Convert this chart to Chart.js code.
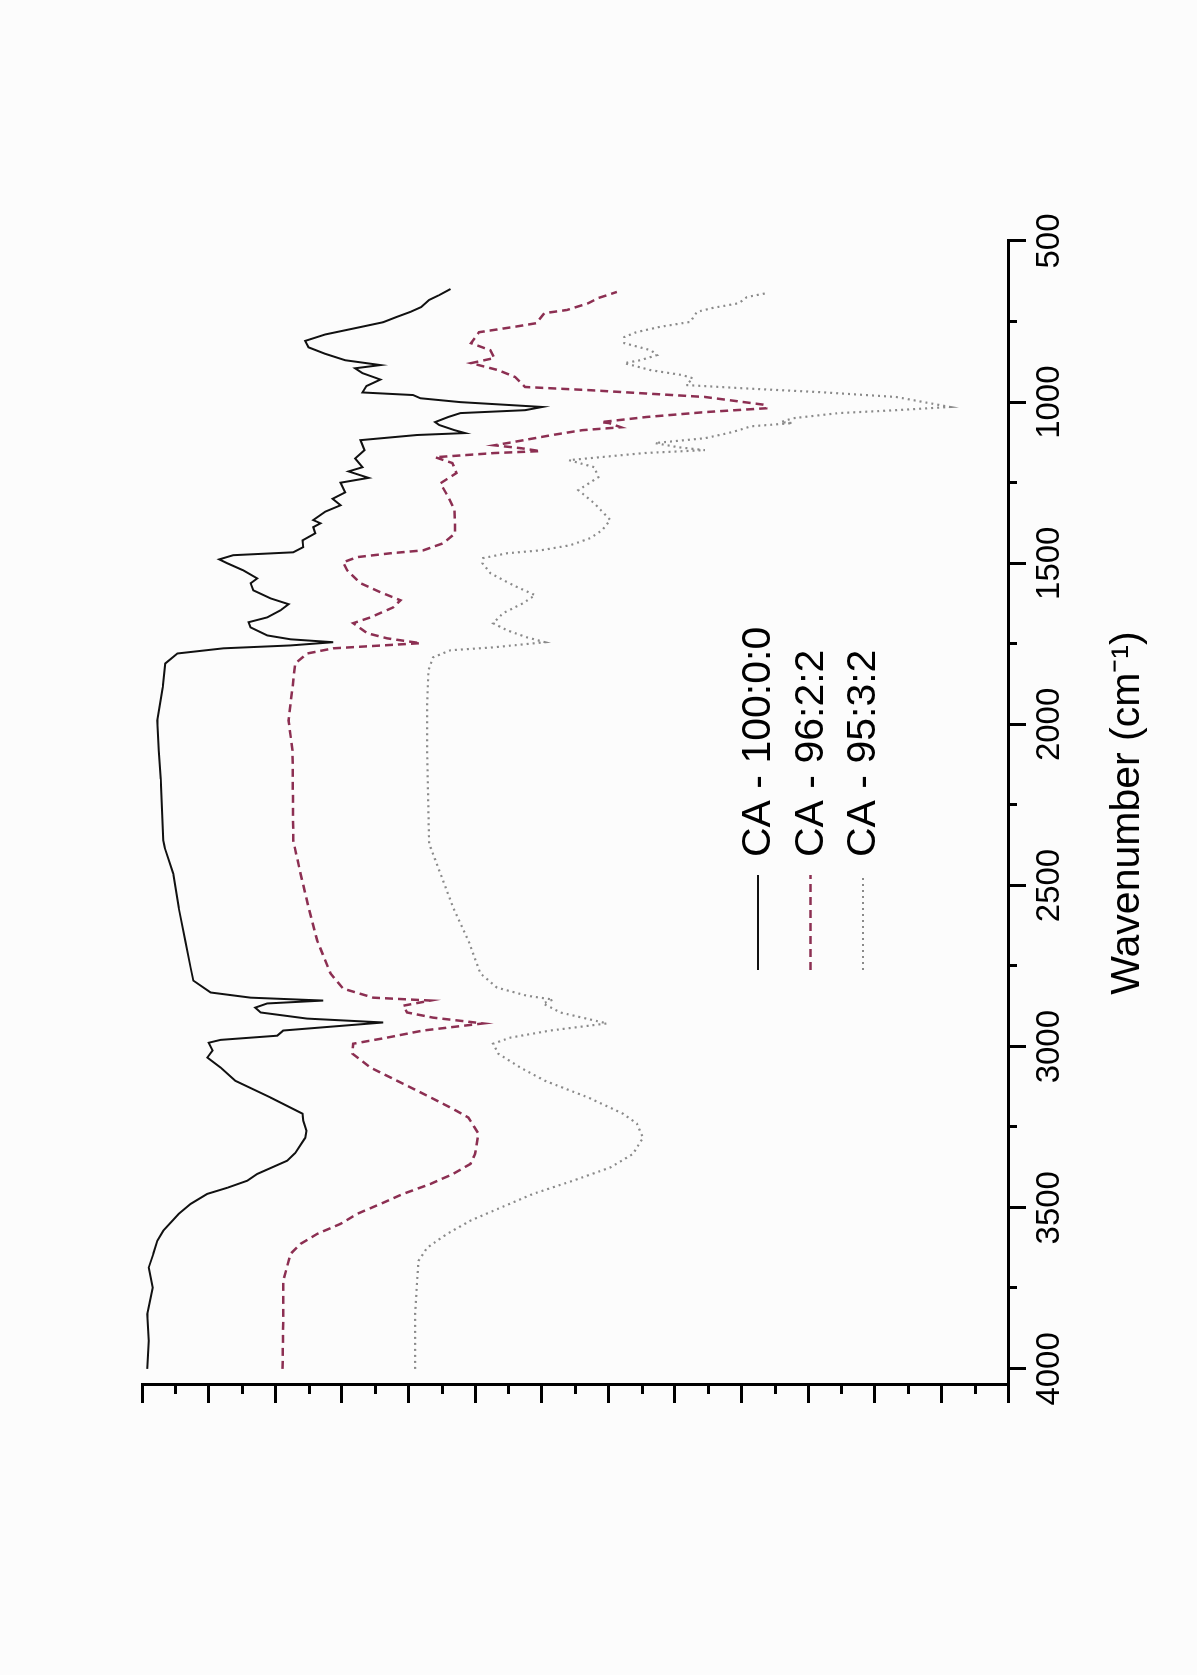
<!DOCTYPE html>
<html>
<head>
<meta charset="utf-8">
<title>FTIR spectra</title>
<script src="https://cdn.jsdelivr.net/npm/chart.js@4.4.1/dist/chart.umd.min.js"></script>
<style>
  html, body { margin: 0; padding: 0; background: #fcfcfc; }
  body { width: 1197px; height: 1675px; overflow: hidden; position: relative; }
  /* the chart is drawn upright, then the whole thing is turned a quarter counter-clockwise */
  #wrap { position: absolute; left: 0; top: 0; width: 1675px; height: 1197px;
          transform-origin: 0 0; transform: translate(0px, 1675px) rotate(-90deg); }
</style>
</head>
<body>
<div id="wrap"><canvas id="myChart" width="1675" height="1197" style="width:1675px;height:1197px"></canvas></div>
<script>
const seriesNames = ['CA - 100:0:0', 'CA - 96:2:2', 'CA - 95:3:2']
const xTitle = 'Wavenumber (cm\u207B\u00B9)'

const wnTicks = [500, 1000, 1500, 2000, 2500, 3000, 3500, 4000]
const wnMinor = [750, 1250, 1750, 2250, 2750, 3250, 3750]
const tTicks = [0, 10, 20, 30, 40, 50, 60, 70, 80, 90, 100, 110, 120, 130]
const tMinor = [5, 15, 25, 35, 45, 55, 65, 75, 85, 95, 105, 115, 125]

// CA - 100:0:0
const wnCA100 = [4000, 3913, 3830, 3748, 3686, 3643, 3602, 3571, 3519, 3488, 3457, 3438, 3416, 3395, 3354, 3330, 3283, 3261, 3230, 3208,
  3158, 3106, 3065, 3034, 3012, 2988, 2979, 2966, 2950, 2925, 2913, 2894, 2879, 2866, 2857, 2848, 2832, 2795, 2755, 2671,
  2568, 2463, 2382, 2360, 2170, 2081, 1988, 1885, 1811, 1780, 1764, 1755, 1745, 1736, 1724, 1699, 1683, 1668, 1646, 1627,
  1609, 1584, 1562, 1547, 1522, 1500, 1488, 1475, 1469, 1466, 1450, 1429, 1407, 1388, 1376, 1366, 1340, 1320, 1300, 1280,
  1250, 1235, 1215, 1202, 1175, 1149, 1118, 1102, 1096, 1087, 1071, 1062, 1046, 1034, 1025, 1015, 1000, 988, 978, 970,
  950, 930, 910, 895, 885, 870, 850, 830, 810, 790, 767, 752, 736, 720, 705, 683, 668, 649]
const tCA100 = [129.2, 129.0, 129.2, 128.4, 129.0, 128.3, 127.7, 126.8, 124.5, 122.7, 120.2, 117.2, 114.2, 112.7, 108.2, 107.0, 105.5, 105.3, 105.8, 105.9,
  110.7, 116.0, 118.2, 120.2, 119.4, 120.0, 118.2, 109.7, 108.8, 93.8, 105.2, 112.2, 113.0, 111.2, 102.8, 113.7, 119.7, 122.3, 122.7, 123.5,
  124.5, 125.3, 126.6, 126.8, 127.2, 127.5, 127.7, 126.9, 126.5, 124.7, 117.8, 107.7, 101.3, 107.7, 111.2, 113.7, 114.0, 111.2, 109.2, 108.0,
  110.7, 113.3, 113.7, 112.7, 114.8, 117.2, 118.4, 116.3, 110.3, 107.3, 105.8, 105.9, 104.0, 104.3, 103.2, 104.3, 102.5, 100.2, 101.4, 99.5,
  100.2, 96.0, 99.0, 96.9, 98.0, 96.6, 97.2, 88.7, 81.5, 83.1, 85.4, 86.0, 84.0, 82.2, 72.5, 69.9, 82.2, 88.2, 89.3, 96.9,
  96.3, 94.2, 96.9, 98.0, 94.2, 99.5, 102.5, 105.0, 105.5, 102.5, 97.2, 93.8, 91.8, 89.7, 88.1, 86.9, 85.4, 83.7]

// CA - 96:2:2
const wnCA96 = [4000, 3851, 3727, 3643, 3612, 3581, 3550, 3519, 3488, 3457, 3426, 3395, 3364, 3333, 3270, 3220, 3189, 3146, 3106, 3065,
  3022, 2991, 2972, 2950, 2928, 2910, 2894, 2873, 2857, 2848, 2820, 2773, 2671, 2568, 2463, 2360, 2081, 1988, 1885, 1811,
  1780, 1764, 1748, 1733, 1717, 1686, 1668, 1637, 1615, 1590, 1562, 1522, 1497, 1481, 1469, 1460, 1438, 1407, 1376, 1335,
  1295, 1252, 1220, 1189, 1171, 1158, 1152, 1143, 1134, 1124, 1102, 1087, 1078, 1065, 1062, 1046, 1031, 1019, 1009, 984,
  963, 953, 922, 901, 879, 863, 839, 817, 783, 767, 755, 724, 714, 693, 677, 658]
const tCA96 = [108.9, 108.8, 108.8, 107.7, 106.2, 103.7, 100.2, 97.7, 94.2, 90.8, 86.7, 83.3, 80.7, 80.0, 79.5, 81.0, 83.7, 87.8, 91.7, 95.7,
  98.4, 98.3, 93.2, 87.8, 78.8, 86.3, 90.2, 90.8, 86.7, 95.3, 99.8, 101.7, 103.7, 105.0, 106.2, 107.3, 107.4, 108.0, 107.4, 107.0,
  105.2, 101.3, 88.2, 93.2, 96.2, 98.3, 95.7, 92.3, 91.2, 94.2, 97.2, 99.2, 99.8, 97.7, 92.7, 87.8, 84.8, 83.0, 83.0, 83.1,
  84.0, 85.2, 82.8, 83.4, 86.0, 77.1, 70.2, 73.1, 77.1, 74.3, 68.4, 63.9, 58.1, 59.9, 61.1, 54.2, 45.5, 36.3, 36.3, 45.5,
  62.7, 72.5, 74.0, 76.5, 80.6, 77.1, 77.7, 80.6, 79.4, 74.3, 70.8, 69.6, 66.2, 63.0, 61.5, 58.7]

// CA - 95:3:2
const wnCA95 = [4000, 3830, 3727, 3665, 3624, 3581, 3540, 3500, 3457, 3416, 3375, 3333, 3283, 3239, 3208, 3158, 3106, 3065, 3022, 2991,
  2972, 2950, 2928, 2894, 2866, 2854, 2842, 2817, 2773, 2671, 2568, 2463, 2370, 2081, 1935, 1832, 1792, 1770, 1761, 1745,
  1730, 1708, 1686, 1655, 1624, 1599, 1568, 1531, 1500, 1484, 1469, 1460, 1444, 1422, 1397, 1366, 1314, 1273, 1233, 1202,
  1180, 1158, 1149, 1140, 1127, 1112, 1096, 1087, 1075, 1065, 1062, 1050, 1034, 1025, 1015, 984, 969, 957, 947, 926,
  916, 901, 879, 870, 854, 839, 817, 798, 783, 767, 751, 739, 720, 708, 693, 674, 662]
const tCA95 = [89.0, 89.0, 88.7, 88.5, 87.2, 84.2, 80.7, 76.2, 71.3, 65.3, 59.7, 56.3, 54.8, 55.7, 57.8, 63.0, 69.5, 73.2, 76.5, 77.3,
  74.7, 68.7, 60.2, 67.2, 69.8, 68.3, 72.2, 76.7, 79.2, 81.0, 83.3, 85.2, 86.9, 87.2, 87.2, 87.0, 86.3, 83.7, 77.3, 69.5,
  72.2, 75.2, 77.3, 75.8, 72.8, 71.0, 74.3, 77.7, 78.9, 78.8, 75.2, 70.2, 65.7, 62.7, 60.9, 59.7, 62.1, 64.5, 61.5, 62.1,
  65.9, 54.6, 45.5, 49.5, 53.0, 45.5, 42.0, 40.4, 38.6, 32.3, 34.1, 32.3, 25.4, 16.8, 8.7, 16.8, 28.2, 39.8, 48.3, 47.3,
  48.9, 53.6, 57.6, 55.2, 52.7, 53.6, 57.6, 57.6, 55.8, 52.4, 47.7, 47.3, 46.7, 44.4, 40.4, 39.2, 36.3]

function toPoints(wn, t) {
    return wn.map((w, i) => ({ x: w, y: t[i] }))
}

const fontFamily = "'Liberation Sans', Arial, sans-serif"

// short ticks between the labelled ones
const minorTicks = {
    id: 'minorTicks',
    afterDraw(chart) {
        const ctx = chart.ctx
        const xs = chart.scales.x
        const ys = chart.scales.y
        ctx.save()
        ctx.strokeStyle = '#000'
        ctx.lineWidth = 3
        ctx.beginPath()
        for (let v of wnMinor) {
            let px = Math.round(xs.getPixelForValue(v)) + 0.5
            ctx.moveTo(px, xs.top)
            ctx.lineTo(px, xs.top + 9)
        }
        for (let v of tMinor) {
            let py = Math.round(ys.getPixelForValue(v)) + 0.5
            ctx.moveTo(ys.right, py)
            ctx.lineTo(ys.right - 9, py)
        }
        ctx.stroke()
        ctx.restore()
    }
}

// legend sitting inside the plot
const innerLegend = {
    id: 'innerLegend',
    afterDraw(chart) {
        const ctx = chart.ctx
        const area = chart.chartArea
        const x0 = area.left + 415
        const x1 = x0 + 95
        ctx.save()
        chart.data.datasets.forEach((ds, i) => {
            let y = area.top + 616 + i * 52.5
            ctx.strokeStyle = ds.borderColor
            ctx.lineWidth = ds.borderWidth
            ctx.setLineDash(ds.borderDash || [])
            ctx.beginPath()
            ctx.moveTo(x0, y)
            ctx.lineTo(x1, y)
            ctx.stroke()
            ctx.setLineDash([])
            ctx.fillStyle = '#000'
            ctx.font = '41px ' + fontFamily
            ctx.textBaseline = 'middle'
            ctx.textAlign = 'left'
            ctx.fillText(ds.label, x1 + 18, y + 1)
        })
        ctx.restore()
    }
}

const ctx = document.getElementById('myChart')

new Chart(ctx, {
    type: 'line',
    data: {
        datasets: [
            {
                label: seriesNames[0],
                data: toPoints(wnCA100, tCA100),
                borderColor: '#111111',
                borderWidth: 2,
                pointRadius: 0,
                tension: 0
            },
            {
                label: seriesNames[1],
                data: toPoints(wnCA96, tCA96),
                borderColor: '#8c2f52',
                borderWidth: 2.5,
                borderDash: [8, 5],
                pointRadius: 0,
                tension: 0
            },
            {
                label: seriesNames[2],
                data: toPoints(wnCA95, tCA95),
                borderColor: '#8a8a8a',
                borderWidth: 2.2,
                borderDash: [2, 4],
                pointRadius: 0,
                tension: 0
            }
        ]
    },
    options: {
        responsive: false,
        animation: false,
        events: [],
        layout: { padding: { left: 260, right: 241, top: 142, bottom: 39 } },
        plugins: {
            legend: { display: false },
            tooltip: { enabled: false }
        },
        scales: {
            x: {
                type: 'linear',
                reverse: true,
                min: 500,
                max: 4050,
                afterBuildTicks: (s) => { s.ticks = wnTicks.map(v => ({ value: v })) },
                afterFit: (s) => { s.height = 150 },
                ticks: {
                    autoSkip: false,
                    maxRotation: 0,
                    padding: 4,
                    color: '#000',
                    font: { family: fontFamily, size: 33 },
                    callback: (v) => String(v)
                },
                grid: { drawOnChartArea: false, drawTicks: true, tickLength: 18, lineWidth: 3, color: '#000' },
                border: { display: true, width: 3, color: '#000' },
                title: {
                    display: true,
                    text: xTitle,
                    color: '#000',
                    font: { family: fontFamily, size: 41 },
                    padding: { top: 0, bottom: 6 }
                }
            },
            y: {
                type: 'linear',
                min: 0,
                max: 130,
                afterBuildTicks: (s) => { s.ticks = tTicks.map(v => ({ value: v })) },
                afterFit: (s) => { s.width = 30 },
                ticks: { display: false },
                grid: { drawOnChartArea: false, drawTicks: true, tickLength: 18, lineWidth: 3, color: '#000' },
                border: { display: true, width: 3, color: '#000' }
            }
        }
    },
    plugins: [minorTicks, innerLegend]
});
</script>
</body>
</html>
